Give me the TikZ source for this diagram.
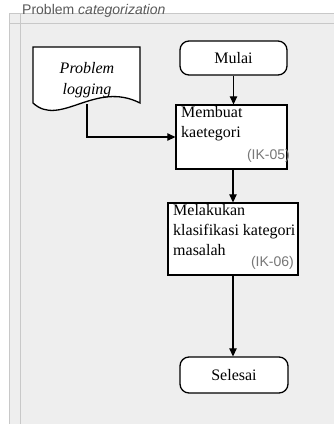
\documentclass[tikz,border=0pt]{standalone}
\usepackage{fontspec}
\setmainfont{Liberation Serif}
\newfontfamily\lanefont{Liberation Sans}
\usetikzlibrary{arrows.meta}
\definecolor{lanebg}{HTML}{EEEEEE}
\definecolor{laneline}{HTML}{C8C8C8}
\definecolor{labelgray}{HTML}{777777}
\definecolor{titlegray}{HTML}{5A5A5A}
\begin{document}
\begin{tikzpicture}[x=1pt,y=-1pt,
  shape line/.style={draw=black,line width=1.3pt},
  term/.style={shape line,fill=white,rounded corners=9pt,minimum width=107pt,
    minimum height=34pt,inner sep=0pt,font=\fontsize{16}{20}\selectfont},
  procbox/.style={shape line,fill=white,inner sep=0pt},
  boxtext/.style={anchor=north west,align=left,inner sep=0pt,
    font=\fontsize{16}{20}\selectfont},
  reflabel/.style={anchor=south east,inner sep=0pt,text=labelgray,
    font=\lanefont\fontsize{14}{14}\selectfont},
  flow/.style={line width=1.2pt,-{Triangle[length=8pt,width=7.5pt]}},
  laneedge/.style={draw=laneline,line width=1pt}
]
% canvas and swimlane
\useasboundingbox (0,0) rectangle (334,424);
\fill[white] (0,0) rectangle (334,424);
\fill[lanebg] (9,13) rectangle (334,424);
\draw[laneedge] (9,13) -- (334,13);
\draw[laneedge] (9,23) -- (334,23);
\draw[laneedge] (9,13) -- (9,424);
\draw[laneedge] (20,13) -- (20,424);
\node[anchor=west,inner sep=0pt,text=titlegray,
  font=\lanefont\fontsize{14}{14}\selectfont] (lanetitle) at (22,11)
  {Problem \textit{categorization}};

% start / end terminators
\node[term] (mulai) at (233.5,58) {Mulai};
\node[term,minimum width=108pt,minimum height=36pt] (selesai) at (234,375) {Selesai};

% process boxes
\node[procbox,minimum width=111pt,minimum height=64pt] (membuat) at (231.5,137) {};
\node[boxtext] (membuattext) at (181,106) {Membuat\\kaetegori};
\node[reflabel] (ik05) at (290,163) {(IK-05)};

\node[procbox,minimum width=130pt,minimum height=72pt] (klasifikasi) at (233,239) {};
\node[boxtext] (klasifikasitext) at (173,204) {Melakukan\\klasifikasi kategori\\masalah};
\node[reflabel] (ik06) at (294,270) {(IK-06)};

% document shape
\draw[shape line,fill=white] (33,47) -- (140,47) -- (140,103)
  .. controls (95,80) and (60,128) .. (33,103) -- cycle;
\node[align=center,inner sep=0pt,font=\itshape\fontsize{16}{21}\selectfont]
  (doc) at (87,80) {Problem\\logging};
\coordinate (docout) at (87,104);

% connectors
\draw[flow] (mulai.south) -- (mulai.south |- membuat.north);
\draw[flow] (docout) |- (membuat.west);
\draw[flow] (membuat.south -| klasifikasi.north) -- (klasifikasi.north);
\draw[flow] (klasifikasi.south) -- (klasifikasi.south |- selesai.north);
\end{tikzpicture}
\end{document}
